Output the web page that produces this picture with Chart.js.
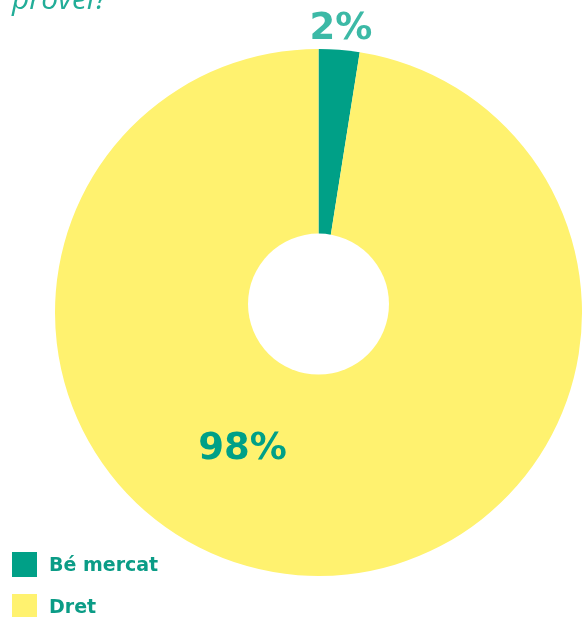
<!DOCTYPE html>
<html>
<head>
<meta charset="utf-8">
<script src="https://cdn.jsdelivr.net/npm/chart.js@4.4.1/dist/chart.umd.min.js"></script>
<style>
    body { margin: 0; background: #fff; }
    #wrap { position: relative; width: 582px; height: 617px; overflow: hidden; }
    #legend { position: absolute; left: 12px; top: 552px; }
    .legend-row { display: flex; align-items: center; height: 25px; margin-bottom: 17px; }
    .legend-box { width: 25px; height: 25px; margin-right: 12px; }
    .legend-text { font-family: "DejaVu Sans"; font-weight: bold; font-size: 19px; line-height: 25px; color: #0b9c86; }
</style>
</head>
<body>
<div id="wrap">
    <canvas id="pieChart" width="582" height="617"></canvas>
    <div id="legend"></div>
</div>
<script>
// Data
const categories = ['Bé mercat', 'Dret'];
const values = [2.5, 97.5];
const valueLabels = ['2%', '98%'];
const sliceColors = ['#00a087', '#fff26f'];
const labelColors = ['#3cb9a6', '#00a087'];

// label anchor relative to the centre, in units of the outer radius
const labelPos = [
    { fx: 0.085, fy: -1.038 },
    { fx: -0.288, fy: 0.556 }
];

// white hole on top of the pie (it is a bit off-centre in the original)
const holePlugin = {
    id: 'hole',
    afterDatasetsDraw(chart) {
        const arc = chart.getDatasetMeta(0).data[0];
        const ctx = chart.ctx;
        const r = arc.outerRadius;
        ctx.save();
        ctx.fillStyle = '#ffffff';
        ctx.beginPath();
        ctx.arc(arc.x, arc.y - 0.032 * r, 0.2675 * r, 0, Math.PI * 2);
        ctx.fill();
        ctx.restore();
    }
};

const textPlugin = {
    id: 'texts',
    afterDraw(chart) {
        const ctx = chart.ctx;
        const arcs = chart.getDatasetMeta(0).data;
        const cx = arcs[0].x, cy = arcs[0].y, r = arcs[0].outerRadius;
        ctx.save();
        ctx.textAlign = 'center';
        ctx.textBaseline = 'alphabetic';
        ctx.font = 'bold 37px "DejaVu Sans"';
        valueLabels.forEach((txt, i) => {
            ctx.fillStyle = labelColors[i];
            ctx.fillText(txt, cx + labelPos[i].fx * r, cy + labelPos[i].fy * r);
        });
        // cut-off question line at the very top
        ctx.textAlign = 'left';
        ctx.font = 'italic 30px "Open Sans"';
        ctx.fillStyle = '#22ad98';
        ctx.fillText('provei?', 12, 9);
        ctx.restore();
    }
};

new Chart(document.getElementById('pieChart').getContext('2d'), {
    type: 'pie',
    data: {
        labels: categories,
        datasets: [{
            data: values,
            backgroundColor: sliceColors,
            borderWidth: 0,
            hoverOffset: 0,
            offset: 0
        }]
    },
    options: {
        responsive: false,
        animation: false,
        layout: { padding: { left: 55, right: 0, top: 49, bottom: 41 } },
        plugins: {
            legend: { display: false },
            tooltip: { enabled: false }
        }
    },
    plugins: [holePlugin, textPlugin]
});

// Legend
const legend = document.getElementById('legend');
categories.forEach((name, i) => {
    legend.innerHTML += `<div class="legend-row"><div class="legend-box" style="background:${sliceColors[i]}"></div><span class="legend-text">${name}</span></div>`;
});
</script>
</body>
</html>
